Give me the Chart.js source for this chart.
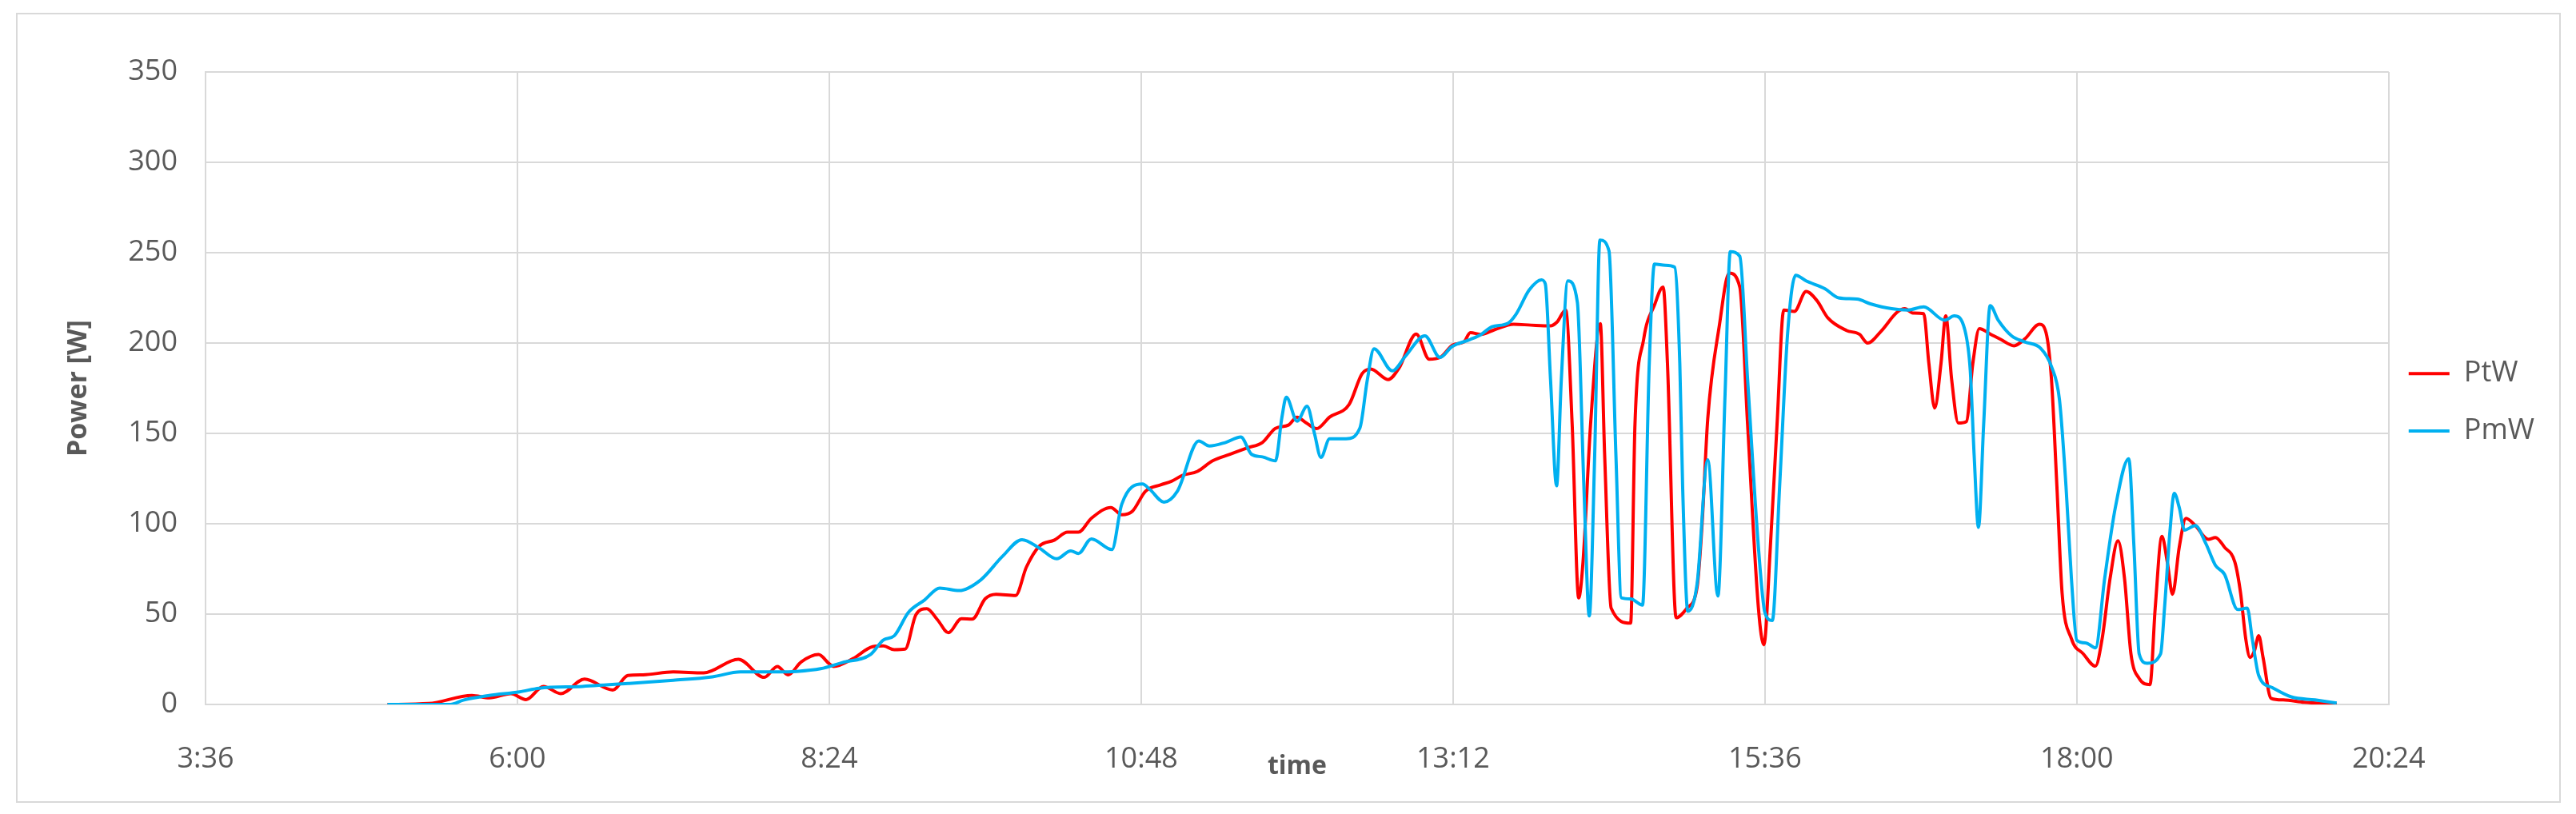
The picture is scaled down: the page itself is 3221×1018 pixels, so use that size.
<!DOCTYPE html>
<html>
<head>
<meta charset="utf-8">
<script src="https://cdn.jsdelivr.net/npm/chart.js@4.4.1/dist/chart.umd.min.js"></script>
<style>
  html, body { margin: 0; padding: 0; background: #fff; }
  #wrap { position: relative; width: 3221px; height: 1018px; }
  #frame { position: absolute; left: 20px; top: 16px; width: 3178px; height: 984px; border: 2px solid #d9d9d9; pointer-events: none; }
</style>
</head>
<body>
<div id="wrap">
  <canvas id="chart"></canvas>
  <div id="frame"></div>
</div>
<script>
// time in minutes after midnight, power in W
const ptTime = [300, 319, 339, 347, 357, 364, 372, 380, 391, 404, 411, 418, 432, 446, 462, 474, 480, 485, 491, 499,
  504, 506, 515, 524, 529, 534, 539, 544, 549, 554, 559, 565, 570, 576, 581, 590, 595, 601, 608, 614,
  619, 625, 634, 639, 644, 650, 657, 662, 667, 674, 681, 689, 697, 704, 710, 716, 720, 724, 729, 735,
  744, 750, 754, 762, 767, 775, 781, 786, 792, 797, 800, 805, 811, 820, 828, 837, 840, 844, 847, 850,
  852, 855.5, 860, 862, 865, 874, 876, 880, 885, 889, 891, 895, 900, 904.7, 907, 909.6, 915, 919.5, 924.4, 928,
  933, 935.5, 938.5, 941.6, 944.7, 949.6, 955, 960, 965, 973.6, 979.7, 983.4, 989.6, 997, 1000.6, 1004.3, 1009.3, 1011.7, 1014.4, 1017.3,
  1019.5, 1022.2, 1025.3, 1029, 1032, 1035, 1040, 1044.9, 1051, 1056, 1062.8, 1065.8, 1068.3, 1070.8, 1073.2, 1077.5, 1083, 1088.6, 1091.7, 1095.4,
  1099, 1102, 1105, 1108.8, 1113.8, 1116.2, 1119.3, 1121.8, 1124.2, 1127.3, 1130.4, 1134.7, 1140.8, 1144, 1148.2, 1153, 1155.6, 1158, 1160, 1162,
  1164, 1166, 1169.7, 1175.3, 1185, 1200];
const ptPower = [0, 0.5, 5, 3.7, 6, 2.7, 10, 6, 14, 8, 16, 16.4, 18, 17.5, 25, 15, 21, 16.4, 23.5, 27.6,
  22.5, 21, 25.4, 32, 32.4, 30.3, 30.6, 49.7, 53, 46.8, 39.7, 47.5, 47.2, 58.5, 61, 60.3, 76, 87.6, 91, 95.3,
  95.3, 103, 109, 105, 107, 118, 121.5, 123.5, 126.7, 129, 134.8, 138.4, 142, 145, 152.8, 154.6, 159, 156, 152.6, 159,
  166, 183, 185.6, 179.8, 186, 205, 191, 192, 199, 200.6, 205.7, 204.8, 207.3, 210.4, 209.9, 209.5, 211.6, 218.3, 155, 59,
  78.7, 155, 210.7, 138, 53.3, 45, 155, 202, 221, 231, 188.7, 48, 53.3, 65, 100, 158, 210, 238.7, 231, 155,
  53.3, 33, 87, 155, 218.3, 217.5, 228.5, 223.5, 214, 207, 204.8, 200, 206.5, 217, 219, 216.6, 216.3, 188.7, 164, 188.7,
  215, 180, 155.7, 156.5, 188.7, 208, 205, 202, 198.5, 202.3, 210.4, 205.7, 180, 121, 61.8, 36.4, 28, 21.2, 36.4, 70,
  90.6, 70, 28, 14.4, 11, 53.3, 93, 78.7, 61, 87, 103, 99, 91.4, 92.4, 87, 78.7, 61.8, 36.4, 26, 29.6,
  38, 26, 3.4, 2.5, 1.2, 0];

const pmTime = [300, 329, 335, 347, 361, 370, 390, 411, 432, 450, 463, 480, 489, 500, 510, 523, 529, 534, 540.5, 548,
  555, 564, 574, 584, 593, 601, 609, 615.5, 619, 625, 634.5, 639, 648.6, 652, 658.5, 664.7, 674.6, 679.5, 687, 694,
  699, 704, 710, 713, 715, 720, 724.6, 728, 731, 735, 742.6, 749, 752.4, 755.5, 764, 770, 779, 786, 791.5, 800,
  805, 810, 817.4, 821, 827.2, 832.8, 834.6, 837, 839.8, 842, 845, 849.4, 852.4, 854.9, 857.4, 859.8, 864, 867.2, 869.7, 874,
  879.5, 882.6, 885, 890, 894.3, 896.7, 898, 900.4, 904.7, 909.6, 914.3, 917.6, 920, 924.4, 928, 933, 936, 939.4, 942.8, 946.5,
  950.2, 955, 963.8, 970, 978.5, 984.7, 994.5, 1001.9, 1009.3, 1019, 1023.4, 1028.3, 1030.8, 1032.6, 1034.6, 1037, 1040, 1043.7, 1049.9, 1056,
  1063.4, 1068.3, 1072, 1075, 1077.5, 1080, 1084.3, 1088.6, 1092.9, 1097.8, 1104, 1106.4, 1108.8, 1112.5, 1118.7, 1120.5, 1123, 1125, 1127.3, 1129.7,
  1134.7, 1139.6, 1144, 1148.2, 1154.3, 1158.7, 1161, 1164, 1170.3, 1179, 1190, 1200];
const pmPower = [0, 0, 2.4, 5, 7, 9, 10, 11.6, 13.4, 15.3, 18, 18, 18.3, 19.8, 23.2, 27.6, 35.7, 38, 50.9, 57.8,
  64.4, 63, 69, 82, 91.2, 86.5, 80.6, 85, 83.5, 91.6, 85.7, 110.7, 122, 119, 112, 118, 145.8, 143, 145, 148,
  138.4, 137, 134.8, 159, 170, 156.8, 165, 150, 136.7, 147, 147, 153, 179.5, 196.8, 184.6, 192.7, 204, 192, 198, 202,
  204.8, 209, 211, 215.8, 229.4, 235, 232.7, 180, 121, 180, 234.4, 222.6, 121, 49, 138, 257, 251, 138, 59, 58.4,
  55, 188.7, 243.7, 243, 242, 188.7, 121, 51.6, 66.9, 135.4, 60, 171.8, 250.5, 248, 180, 87, 50.8, 46.5, 121, 205.7,
  237.5, 234.4, 230, 225, 224.3, 221.7, 219, 218.3, 220, 212.6, 215, 207.3, 185, 138, 98, 155, 220.7, 212.7, 204, 200.6,
  197, 187, 168.6, 121, 70, 35.5, 34, 31.3, 70, 109, 136, 87, 28, 22.8, 28, 53.3, 95.6, 116.8, 109, 96.5,
  99, 89, 77, 72, 52.5, 53.3, 36.4, 16, 9.3, 4.2, 2.5, 0.8];

const xMin = 216, xMax = 1224, xStep = 144; // 3:36 .. 20:24
const yMin = 0, yMax = 350, yStep = 50;

const RED = "#ff0000";
const BLUE = "#00b0f0";
const TEXT = "#595959";
const GRID = "#d9d9d9";
const FONT = "'Open Sans', 'Liberation Sans', sans-serif";

function toPoints(xs, ys) {
  return xs.map((x, i) => ({ x, y: ys[i] }));
}

function fmtTime(v) {
  const h = Math.floor(v / 60);
  const m = Math.round(v % 60);
  return h + ":" + String(m).padStart(2, "0");
}

new Chart(document.getElementById("chart"), {
  type: "line",
  data: {
    datasets: [
      {
        label: "PtW",
        data: toPoints(ptTime, ptPower),
        borderColor: RED,
        backgroundColor: RED,
        borderWidth: 4,
        pointRadius: 0,
        cubicInterpolationMode: "monotone",
        fill: false,
        order: 1,
      },
      {
        label: "PmW",
        data: toPoints(pmTime, pmPower),
        borderColor: BLUE,
        backgroundColor: BLUE,
        borderWidth: 4,
        pointRadius: 0,
        cubicInterpolationMode: "monotone",
        fill: false,
        order: 0,
      },
    ],
  },
  options: {
    responsive: true,
    maintainAspectRatio: false,
    animation: false,
    layout: { padding: { left: 78, right: 42, top: 90, bottom: 40 } },
    plugins: {
      tooltip: { enabled: false },
      legend: {
        position: "right",
        align: "center",
        fullSize: false,
        // empty title only used as a spacer to push the entries down a bit
        title: { display: true, text: " ", font: { size: 10, lineHeight: 1 }, padding: { top: 36, bottom: 0 } },
        labels: {
          boxWidth: 51,
          boxHeight: 4,
          padding: 25,
          color: TEXT,
          font: { family: FONT, size: 36, lineHeight: 1.3 },
          sort: (a, b) => a.datasetIndex - b.datasetIndex,
          // single-line array text so the row height follows the line height
          generateLabels: (chart) =>
            Chart.defaults.plugins.legend.labels.generateLabels(chart).map((l) => ({ ...l, text: [l.text], lineWidth: 0 })),
        },
      },
    },
    scales: {
      x: {
        type: "linear",
        min: xMin,
        max: xMax,
        afterFit: (scale) => { scale.height = 97; },
        ticks: {
          stepSize: xStep,
          padding: 47,
          color: TEXT,
          font: { family: FONT, size: 36 },
          callback: (v) => fmtTime(v),
        },
        grid: { color: GRID, lineWidth: 2, drawTicks: false },
        border: { color: GRID, width: 2 },
        title: {
          display: true,
          text: "time",
          color: TEXT,
          font: { family: FONT, size: 32, weight: "bold" },
          padding: { top: 0, bottom: 0 },
        },
      },
      y: {
        min: yMin,
        max: yMax,
        afterFit: (scale) => { scale.width = 179; },
        ticks: {
          stepSize: yStep,
          padding: 35,
          color: TEXT,
          font: { family: FONT, size: 36 },
        },
        grid: { color: GRID, lineWidth: 2, drawTicks: false },
        border: { color: GRID, width: 2 },
        title: {
          display: true,
          text: "Power [W]",
          color: TEXT,
          font: { family: FONT, size: 34, weight: "bold" },
          padding: { top: 0, bottom: 0 },
        },
      },
    },
  },
});
</script>
</body>
</html>
